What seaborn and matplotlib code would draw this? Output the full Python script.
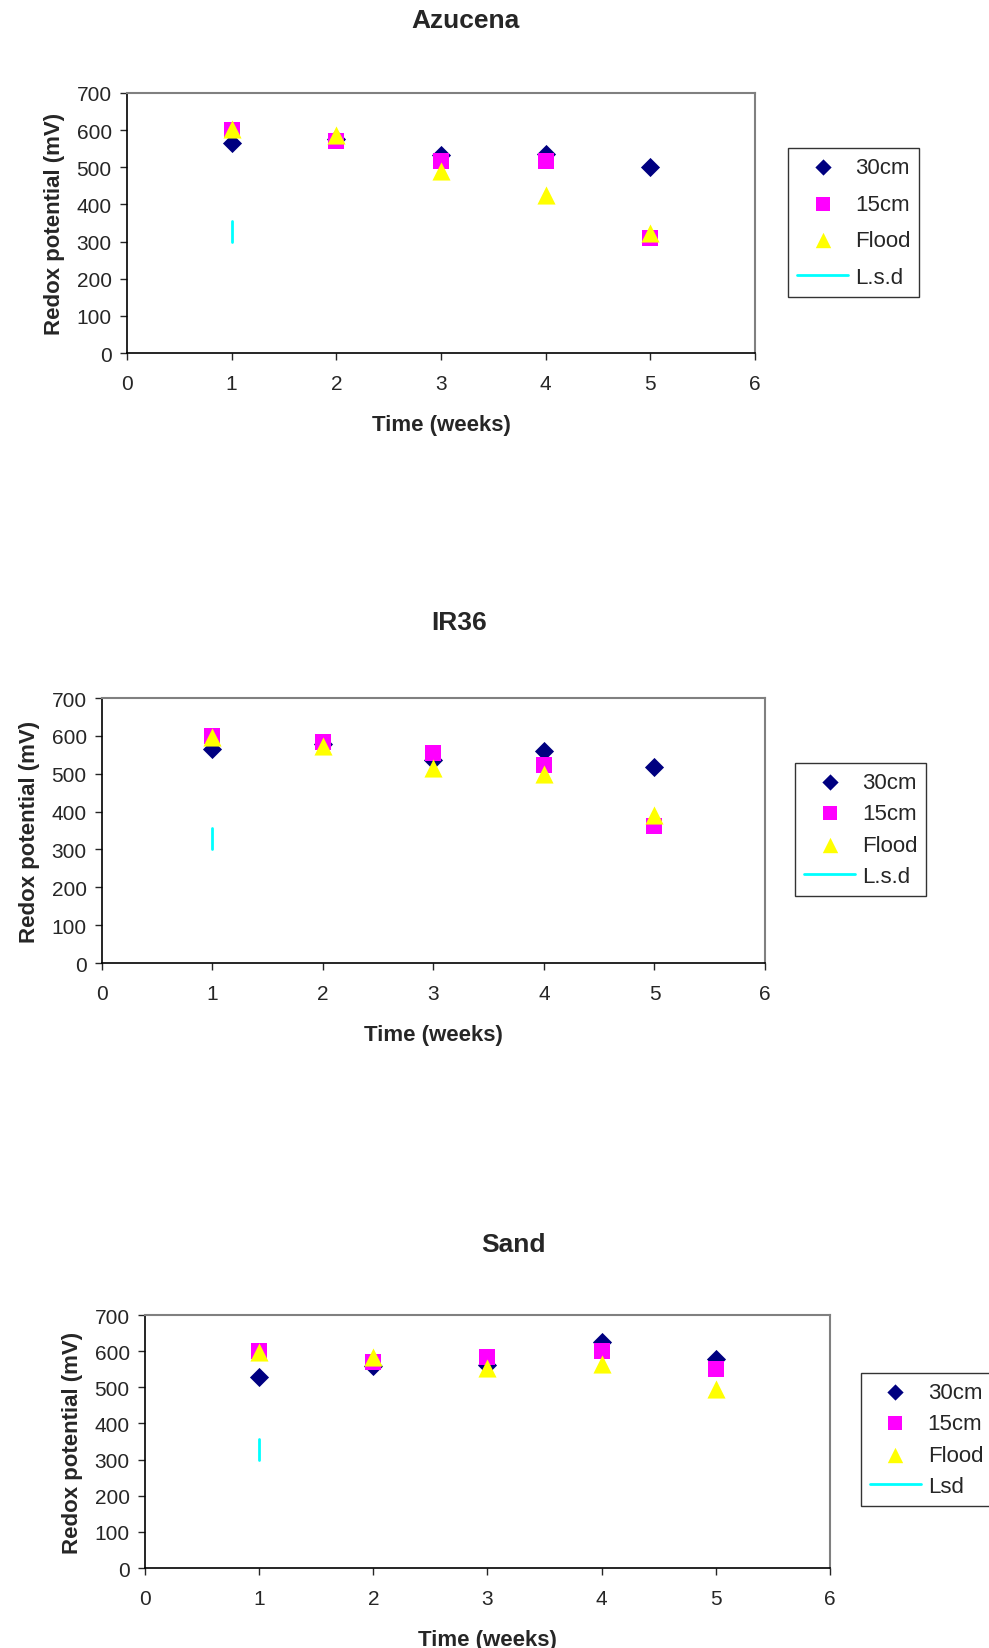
import matplotlib
matplotlib.use("Agg")
import matplotlib.pyplot as plt
import seaborn as sns

# data
weeks = [1, 2, 3, 4, 5]

azucena_30cm = [565, 575, 532, 535, 500]
azucena_15cm = [600, 572, 516, 517, 311]
azucena_flood = [603, 587, 490, 425, 322]

ir36_30cm = [566, 578, 535, 561, 518]
ir36_15cm = [600, 584, 555, 524, 363]
ir36_flood = [596, 573, 516, 500, 390]

sand_30cm = [528, 558, 562, 626, 578]
sand_15cm = [601, 569, 583, 600, 551]
sand_flood = [597, 584, 554, 565, 496]

lsd_week = [1, 1]
lsd_range = [300, 356]

titles = ["Azucena", "IR36", "Sand"]
lsd_names = ["L.s.d", "L.s.d", "Lsd"]

sns.set_style("white")
plt.rcParams['font.family'] = ['Liberation Sans', 'DejaVu Sans']

fig = plt.figure(figsize=(9.89, 16.49), dpi=100)

# axes boxes (figure fractions), title spots and legend spots
ax_boxes = [[0.1284, 0.7853, 0.6350, 0.1577],
            [0.1031, 0.4154, 0.6704, 0.1607],
            [0.1466, 0.0485, 0.6926, 0.1534]]
title_xy = [(0.471, 0.987), (0.464, 0.622), (0.519, 0.245)]
legend_xy = [(0.797, 0.9096), (0.804, 0.5367), (0.8706, 0.1668)]
legend_gap = [0.7, 0.47, 0.47]

series = [
    (azucena_30cm, azucena_15cm, azucena_flood),
    (ir36_30cm, ir36_15cm, ir36_flood),
    (sand_30cm, sand_15cm, sand_flood),
]

for i in range(3):
    ax = fig.add_axes(ax_boxes[i])
    s30, s15, sfl = series[i]

    sns.scatterplot(x=weeks, y=s30, marker='D', color='#000080', s=95,
                    linewidth=0, label='30cm', ax=ax, zorder=3)
    sns.scatterplot(x=weeks, y=s15, marker='s', color='#FF00FF', s=140,
                    linewidth=0, label='15cm', ax=ax, zorder=4)
    sns.scatterplot(x=weeks, y=sfl, marker='^', color='#FFFF00', s=170,
                    linewidth=0, label='Flood', ax=ax, zorder=5)
    ax.plot(lsd_week, lsd_range, color='#00FFFF', lw=2, label=lsd_names[i],
            zorder=2)

    ax.set_xlim(0, 6)
    ax.set_ylim(0, 700)
    ax.set_xticks(range(0, 7))
    ax.set_yticks(range(0, 701, 100))

    for side in ['left', 'bottom']:
        ax.spines[side].set_color('black')
        ax.spines[side].set_linewidth(1.2)
    for side in ['top', 'right']:
        ax.spines[side].set_color('#808080')
        ax.spines[side].set_linewidth(1.5)

    ax.tick_params(axis='x', direction='out', length=5, width=1, pad=10,
                   labelsize=15, bottom=True)
    ax.tick_params(axis='y', direction='out', length=5, width=1, pad=6,
                   labelsize=15, left=True)

    ax.set_xlabel("Time (weeks)", fontsize=16, fontweight='bold', labelpad=15)
    ax.set_ylabel("Redox potential (mV)", fontsize=16, fontweight='bold',
                  labelpad=8)

    fig.text(title_xy[i][0], title_xy[i][1], titles[i], fontsize=19,
             fontweight='bold', ha='center', va='center')

    leg = ax.legend(loc='upper left', bbox_to_anchor=legend_xy[i],
                    bbox_transform=fig.transFigure, fontsize=16,
                    frameon=True, fancybox=False, labelspacing=legend_gap[i],
                    handlelength=2.3, handletextpad=0.3, borderpad=0.4,
                    borderaxespad=0, scatterpoints=1, markerscale=0.85)
    leg.get_frame().set_edgecolor('black')
    leg.get_frame().set_linewidth(1)

fig.savefig("out.png", dpi=100)
